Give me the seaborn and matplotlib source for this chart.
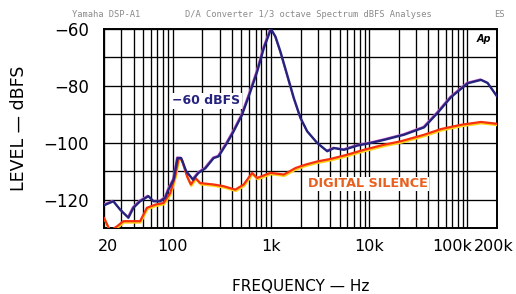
import numpy as np
import pandas as pd
import matplotlib
matplotlib.use("Agg")
import matplotlib.pyplot as plt
import matplotlib.patheffects as pe
import matplotlib.transforms as mtransforms
from matplotlib.ticker import FixedLocator, LogLocator, NullFormatter
import seaborn as sns

# =====================
# DATA
# =====================
tone_freq = [20, 24.9, 29.1, 35.4, 39.8, 46.6, 56.6, 63.7, 74.5, 83.8, 90.6, 102,
             112, 122, 137, 161, 183, 215, 261, 293, 357, 417, 508, 618, 724, 845,
             1000, 1112, 1250, 1462, 1710, 2000, 2340, 2960, 3740, 4380, 5530, 7580,
             10360, 14160, 22600, 36200, 49700, 67900, 100500, 137400, 160700, 200000]
tone_level = [-122, -120.6, -123.5, -126.4, -122.9, -120.6, -118.8, -120.6, -120.6,
              -119.4, -116.5, -113, -105.4, -105.4, -110, -113, -110.6, -109, -105.4,
              -104.8, -100.1, -96, -90.2, -82, -75, -66.8, -60, -62.7, -68, -76.1,
              -84.3, -91.3, -96, -100.1, -103, -101.9, -102.5, -101, -100.1, -99,
              -97.2, -94.6, -89.5, -84, -79.1, -77.9, -79, -83.7]

silence_freq = [20, 23, 26.9, 31.5, 46.6, 54.6, 66.3, 80.6, 94.3, 106, 115, 124, 140,
                153, 170, 191, 261, 330, 434, 528, 643, 723, 988, 1352, 1779, 2250,
                2960, 4050, 6000, 8850, 14160, 20950, 36200, 53700, 85900, 137400,
                195000, 200000]
silence_level = [-126.4, -131, -129.5, -127.6, -127.6, -122.9, -121.8, -121.2, -117.7,
                 -111.8, -105.4, -106, -111.8, -114.7, -112.4, -114.2, -114.7, -115.3,
                 -116.5, -114.7, -110.6, -112.4, -110.6, -111.2, -108.9, -107.7,
                 -106.6, -105.7, -104.2, -102.5, -100.7, -99.5, -97.2, -95.2, -93.7,
                 -92.7, -93.3, -93.4]

xtick_vals = [20, 100, 1000, 10000, 100000, 200000]
xtick_labels = ['20', '100', '1k', '10k', '100k', '200k']
ytick_vals = [-60, -80, -100, -120]

df_tone = pd.DataFrame({'freq': tone_freq, 'level': tone_level})
df_sil = pd.DataFrame({'freq': silence_freq, 'level': silence_level})

# =====================
# PLOT
# =====================
sns.set_style('white')
plt.rcParams['font.family'] = ['DejaVu Sans']
plt.rcParams['text.color'] = 'black'

fig = plt.figure(figsize=(5.16, 2.94), dpi=100)
ax = fig.add_axes([0.2016, 0.2245, 0.7616, 0.6769])

navy = '#25237e'
red = '#f5300e'

sns.lineplot(data=df_sil, x='freq', y='level', ax=ax, color=red, lw=1.6,
             zorder=3,
             path_effects=[pe.Stroke(linewidth=1.6, foreground='#ffd21a', offset=(0.4, -1.0)),
                           pe.Normal()])
sns.lineplot(data=df_tone, x='freq', y='level', ax=ax, color=navy, lw=1.7,
             zorder=4,
             path_effects=[pe.Stroke(linewidth=1.0, foreground='#c860c8', offset=(-0.6, 0.6)),
                           pe.Normal()])

ax.set_xscale('log')
ax.set_xlim(20, 200000)
ax.set_ylim(-130, -60)

ax.xaxis.set_major_locator(FixedLocator(xtick_vals))
ax.set_xticklabels(xtick_labels)
ax.xaxis.set_minor_locator(LogLocator(base=10, subs=np.arange(2, 10)))
ax.xaxis.set_minor_formatter(NullFormatter())

ax.yaxis.set_major_locator(FixedLocator(ytick_vals))
ax.set_yticklabels(['\u2212' + str(-v) for v in ytick_vals])
ax.yaxis.set_minor_locator(FixedLocator(np.arange(-130, -59, 10)))

ax.grid(True, which='both', color='black', lw=0.95)
ax.tick_params(which='both', length=0, labelcolor='black')
ax.tick_params(axis='x', pad=8, labelsize=11.5)
ax.tick_params(axis='y', pad=11, labelsize=12)

# nudge crowded x labels like the original print
shifts = {'20': 3, '100k': -11, '200k': -2}
for lab in ax.get_xticklabels():
    dx = shifts.get(lab.get_text(), 0)
    if dx:
        lab.set_transform(lab.get_transform() +
                          mtransforms.ScaledTranslation(dx / 72, 0, fig.dpi_scale_trans))

for s in ax.spines.values():
    s.set_color('black')
    s.set_linewidth(1.4)

ax.set_xlabel('FREQUENCY \u2014 Hz', fontsize=11, color='black')
ax.xaxis.set_label_coords(0.5, -0.296)
ax.xaxis.label.set_va('center')
ax.set_ylabel('LEVEL \u2014 dBFS', fontsize=12.5, color='black')
ax.yaxis.set_label_coords(-0.216, 0.5)
ax.yaxis.label.set_va('center')

# curve labels
ax.text(220, -85.3, '\u221260 dBFS', color=navy, fontsize=9, fontweight='bold',
        ha='center', va='center', zorder=5,
        bbox=dict(facecolor='white', edgecolor='none', pad=1.0))
ax.text(9770, -114.4, 'DIGITAL SILENCE', color='#e8601e', fontsize=9.2,
        fontweight='bold', ha='center', va='center', zorder=5,
        bbox=dict(facecolor='white', edgecolor='none', pad=0.5))

ax.text(0.985, 0.975, 'Ap', transform=ax.transAxes, fontsize=7, fontweight='bold',
        fontstyle='italic', ha='right', va='top', zorder=5,
        bbox=dict(facecolor='white', edgecolor='none', pad=0.5))

# header line
hdr = dict(fontsize=6.3, color='#8a8a8a', va='center', family='DejaVu Sans Mono')
fig.text(0.14, 0.949, 'Yamaha DSP-A1', **hdr)
fig.text(0.358, 0.949, 'D/A Converter 1/3 octave Spectrum dBFS Analyses', **hdr)
fig.text(0.958, 0.949, 'ES', **hdr)

plt.savefig('out.png', dpi=100)
